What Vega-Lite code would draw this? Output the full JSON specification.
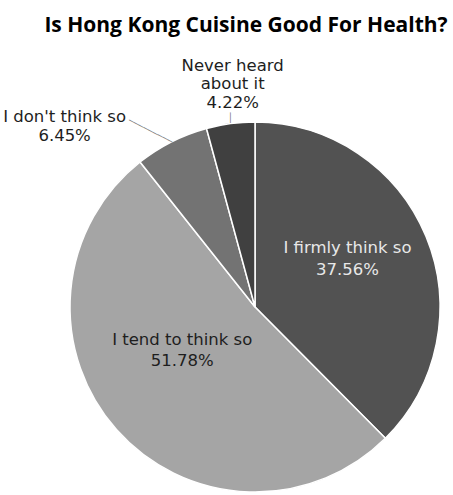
{
  "$schema": "https://vega.github.io/schema/vega-lite/v6.json",
  "autosize": {"type": "none"},
  "width": 370,
  "height": 370,
  "padding": {"left": 70, "top": 122, "right": 13, "bottom": 3},
  "background": "white",
  "config": {"view": {"stroke": null}},
  "title": {
    "text": "Is Hong Kong Cuisine Good For Health?",
    "font": "Open Sans",
    "fontWeight": "bold",
    "fontSize": 21,
    "color": "#000000",
    "anchor": "middle",
    "frame": "group",
    "baseline": "alphabetic",
    "offset": 5,
    "dx": -9
  },
  "data": {
    "values": [
      {"rank": 1, "answer": "I firmly think so", "pct": 37.56, "label": "I firmly think so\n37.56%"},
      {"rank": 2, "answer": "I tend to think so", "pct": 51.78, "label": "I tend to think so\n51.78%"},
      {"rank": 3, "answer": "I don't think so", "pct": 6.45, "label": "I don't think so\n6.45%"},
      {"rank": 4, "answer": "Never heard about it", "pct": 4.22, "label": "Never heard\nabout it\n4.22%"}
    ]
  },
  "encoding": {
    "theta": {"field": "pct", "type": "quantitative", "stack": true},
    "order": {"field": "rank", "type": "quantitative"}
  },
  "layer": [
    {
      "mark": {"type": "arc", "outerRadius": 185, "stroke": "white", "strokeWidth": 1.5},
      "encoding": {
        "color": {
          "field": "answer",
          "type": "nominal",
          "scale": {
            "domain": ["I firmly think so", "I tend to think so", "I don't think so", "Never heard about it"],
            "range": ["#525252", "#a5a5a5", "#737373", "#404040"]
          },
          "legend": null
        }
      }
    },
    {
      "mark": {"type": "text", "radius": 100, "dy": -21, "font": "DejaVu Sans", "fontSize": 16.5, "lineHeight": 22, "lineBreak": "\n", "fill": "#e8e8e8", "baseline": "middle", "align": "center"},
      "encoding": {
        "detail": {"field": "answer"},
        "text": {"condition": {"test": "datum.rank === 1", "field": "label"}, "value": ""}
      }
    },
    {
      "mark": {"type": "text", "radius": 100, "dx": 2, "dy": -33, "font": "DejaVu Sans", "fontSize": 16.5, "lineHeight": 21, "lineBreak": "\n", "fill": "#1e1e1e", "baseline": "middle", "align": "center"},
      "encoding": {
        "detail": {"field": "answer"},
        "text": {"condition": {"test": "datum.rank === 2", "field": "label"}, "value": ""}
      }
    },
    {
      "mark": {"type": "text", "radius": 185, "dx": -107, "dy": -25, "font": "DejaVu Sans", "fontSize": 16.5, "lineHeight": 19, "lineBreak": "\n", "fill": "#1e1e1e", "baseline": "middle", "align": "center"},
      "encoding": {
        "detail": {"field": "answer"},
        "text": {"condition": {"test": "datum.rank === 3", "field": "label"}, "value": ""}
      }
    },
    {
      "mark": {"type": "text", "radius": 222, "dx": 7, "dy": -21, "font": "DejaVu Sans", "fontSize": 16.5, "lineHeight": 18.5, "lineBreak": "\n", "fill": "#1e1e1e", "baseline": "middle", "align": "center"},
      "encoding": {
        "detail": {"field": "answer"},
        "text": {"condition": {"test": "datum.rank === 4", "field": "label"}, "value": ""}
      }
    },
    {
      "mark": {"type": "text", "radius": 185, "dx": 1, "dy": 0, "angle": 27, "font": "DejaVu Sans", "fontSize": 9, "fill": "#7a7a7a", "baseline": "middle", "align": "right"},
      "encoding": {
        "detail": {"field": "answer"},
        "text": {"condition": {"test": "datum.rank === 3", "value": "─────────"}, "value": ""}
      }
    },
    {
      "mark": {"type": "text", "radius": 185, "dx": 0, "dy": -6, "font": "DejaVu Sans", "fontSize": 9, "fill": "#7a7a7a", "baseline": "middle", "align": "center"},
      "encoding": {
        "detail": {"field": "answer"},
        "text": {"condition": {"test": "datum.rank === 4", "value": "│"}, "value": ""}
      }
    }
  ]
}
